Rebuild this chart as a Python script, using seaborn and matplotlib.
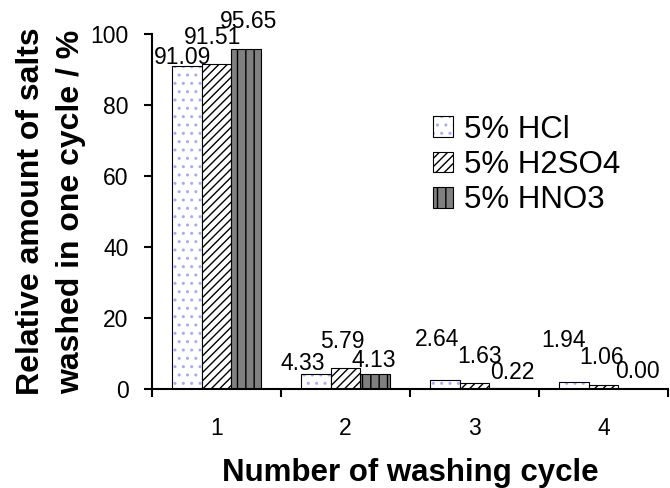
import numpy as np
import pandas as pd
import matplotlib
matplotlib.use("Agg")
import matplotlib.pyplot as plt
import seaborn as sns
from matplotlib.patches import Patch
from matplotlib.colors import to_rgba
from matplotlib.ticker import FixedLocator

# Washing cycles and relative amount of salts removed per cycle (%)
cycles = ["1", "2", "3", "4"]
hcl = [91.09, 4.33, 2.64, 1.94]
h2so4 = [91.51, 5.79, 1.63, 1.06]
hno3 = [95.65, 4.13, 0.22, 0.00]
series_names = ["5% HCl", "5% H2SO4", "5% HNO3"]

df = pd.DataFrame({
    "cycle": cycles * 3,
    "acid": np.repeat(series_names, len(cycles)),
    "value": hcl + h2so4 + hno3,
})

# Fill, hatch and hatch colour for each series
fills = ["white", "white", "#808080"]
hatches = ["..", "////", "||"]
hatch_colors = ["#a8a8ff", "black", "black"]

# Per-label nudges (pixels) so the value labels do not collide
label_dx = [[-4, -13, -8, -10], [-4, -3, 5, -2], [2, -1, 8, 4]]
label_dy = [[8, 10, 40, 42], [27, 27, 27, 28], [28, 14, 16, 17]]

sns.set_style("white")
plt.rcParams["font.family"] = ["Liberation Sans", "DejaVu Sans"]
plt.rcParams["hatch.linewidth"] = 1.0
for key in ["text.color", "axes.labelcolor", "xtick.color", "ytick.color", "axes.edgecolor"]:
    plt.rcParams[key] = "black"

fig = plt.figure(figsize=(6.7, 4.88), dpi=100)
ax = fig.add_axes([152 / 670, 1 - 389 / 488, 516 / 670, 355 / 488])

sns.barplot(data=df, x="cycle", y="value", hue="acid", order=cycles,
            hue_order=series_names, palette=fills, saturation=1,
            width=0.69, edgecolor="black", linewidth=0.8, legend=False, ax=ax)


def style_patch(p, face, hatch, hcolor):
    p.set_facecolor(face)
    p.set_edgecolor("black")
    p.set_hatch(hatch)
    if hasattr(p, "set_hatchcolor"):
        p.set_hatchcolor(hcolor)
    else:
        p._hatch_color = to_rgba(hcolor)


values = [hcl, h2so4, hno3]
for i, container in enumerate(ax.containers):
    for bar, v, dx, dy in zip(container, values[i], label_dx[i], label_dy[i]):
        style_patch(bar, fills[i], hatches[i], hatch_colors[i])
        ax.annotate(f"{v:.2f}", xy=(bar.get_x() + bar.get_width() / 2, v),
                    xytext=(dx, dy), textcoords="offset pixels",
                    ha="center", va="center", fontsize=16.5,
                    annotation_clip=False)

ax.set_xlim(-0.5, 3.5)
ax.set_ylim(0, 100)
ax.set_yticks(range(0, 101, 20))
ax.set_xticks(range(len(cycles)))
ax.set_xticklabels(cycles)
ax.xaxis.set_minor_locator(FixedLocator([-0.5, 0.5, 1.5, 2.5, 3.5]))
ax.tick_params(axis="y", which="major", left=True, direction="out",
               length=6, width=1.5, pad=11, labelsize=16.5)
ax.tick_params(axis="x", which="major", bottom=False, length=0, pad=20,
               labelsize=16.5)
ax.tick_params(axis="x", which="minor", bottom=True, direction="out",
               length=6, width=1.5)
for s in ["top", "right"]:
    ax.spines[s].set_visible(False)
for s in ["left", "bottom"]:
    ax.spines[s].set_linewidth(1.5)
    ax.spines[s].set_color("black")

ax.set_xlabel("Number of washing cycle", fontsize=22.5, fontweight="bold")
ax.xaxis.set_label_coords(0.5, -0.195)
ax.set_ylabel("Relative amount of salts\nwashed in one cycle / %",
              fontsize=23, fontweight="bold", linespacing=1.45)
ax.yaxis.set_label_coords(-0.128, 0.5)

handles = [Patch(facecolor=f, edgecolor="black", hatch=h, linewidth=0.8)
           for f, h in zip(fills, hatches)]
leg = ax.legend(handles, series_names, loc="center left",
                bbox_to_anchor=(433 / 670, 1 - 165 / 488),
                bbox_transform=fig.transFigure, frameon=False, fontsize=22.5,
                handlelength=0.65, handleheight=0.65, handletextpad=0.33,
                labelspacing=0.17, borderpad=0, borderaxespad=0)
for p, f, h, c in zip(leg.get_patches(), fills, hatches, hatch_colors):
    style_patch(p, f, h, c)

fig.savefig("out.png", dpi=100)
